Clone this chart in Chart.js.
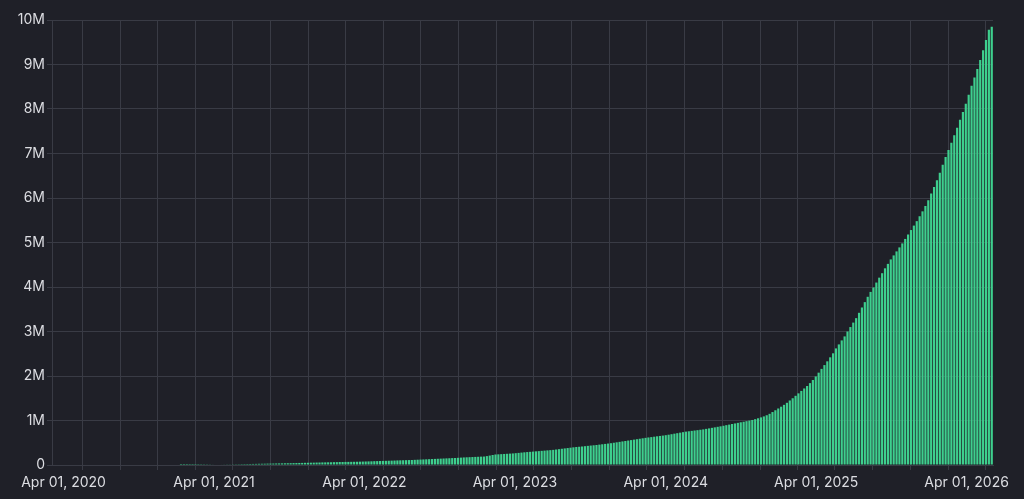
<!DOCTYPE html>
<html>
<head>
<meta charset="utf-8">
<script src="https://cdn.jsdelivr.net/npm/chart.js@4/dist/chart.umd.min.js"></script>
<style>
  html, body { margin: 0; padding: 0; background: #1f2028; }
  #wrap { width: 1024px; height: 499px; }
</style>
</head>
<body>
<div id="wrap"><canvas id="growth"></canvas></div>
<script>
// weekly totals in millions, first bar on 2021-01-04
const firstWeek = "2021-01-04";
const weeklyTotals = [
  0.000, 0.001, 0.001, 0.001, 0.002, 0.002, 0.003,
  0.004, 0.005, 0.006, 0.007, 0.008, 0.010,
  0.011, 0.011, 0.012, 0.013, 0.014, 0.014, 0.015,
  0.016, 0.017, 0.019, 0.020, 0.021, 0.023, 0.024, 0.025, 0.027, 0.028,
  0.029, 0.031, 0.032, 0.033, 0.035, 0.036, 0.037, 0.039, 0.040,
  0.041, 0.043, 0.044, 0.046, 0.047, 0.049, 0.050, 0.052, 0.053, 0.055,
  0.056, 0.058, 0.059, 0.061, 0.062, 0.064, 0.065, 0.067, 0.068, 0.069,
  0.070, 0.071, 0.072, 0.073, 0.075,
  0.077, 0.079, 0.081, 0.083, 0.086, 0.088, 0.090, 0.092, 0.094, 0.096,
  0.098, 0.100, 0.103, 0.105,
  0.107, 0.109, 0.111, 0.113, 0.116, 0.119, 0.122, 0.125, 0.128, 0.131,
  0.134, 0.137, 0.140,
  0.143, 0.146, 0.149, 0.152, 0.155, 0.158, 0.162, 0.166, 0.170, 0.173,
  0.176, 0.179, 0.182, 0.185, 0.188, 0.190,
  0.200, 0.212, 0.225, 0.236,
  0.240, 0.244, 0.248, 0.252, 0.256, 0.260,
  0.266, 0.272, 0.279, 0.285, 0.291, 0.296, 0.301,
  0.307, 0.312, 0.318, 0.323, 0.329, 0.334, 0.340,
  0.348, 0.356, 0.365, 0.373, 0.381, 0.389, 0.397, 0.404, 0.410,
  0.416, 0.423, 0.430, 0.437, 0.443, 0.450,
  0.458, 0.466, 0.474, 0.482, 0.490, 0.500,
  0.510, 0.520, 0.530, 0.540, 0.550,
  0.560, 0.570, 0.580, 0.590, 0.600, 0.610,
  0.619, 0.627, 0.636, 0.645, 0.653, 0.661, 0.670,
  0.681, 0.692, 0.704, 0.715, 0.727, 0.738, 0.750,
  0.758, 0.767, 0.775, 0.783, 0.792, 0.800,
  0.812, 0.823, 0.835, 0.846, 0.858, 0.869, 0.882,
  0.895, 0.908, 0.921, 0.934, 0.947, 0.960,
  0.972, 0.985, 0.998, 1.012,
  1.030, 1.050, 1.070, 1.092, 1.118,
  1.150, 1.190, 1.230, 1.270,
  1.310, 1.352, 1.398, 1.450,
  1.500, 1.555, 1.610, 1.665, 1.720, 1.775,
  1.840, 1.910, 1.990,
  2.075, 2.160, 2.245, 2.330,
  2.420, 2.510, 2.620,
  2.710, 2.800, 2.890,
  3.000, 3.100, 3.200, 3.300,
  3.420, 3.540, 3.660,
  3.780, 3.890, 3.990, 4.100,
  4.210, 4.310, 4.420,
  4.520, 4.620, 4.710, 4.800, 4.890, 4.980, 5.080, 5.180, 5.280, 5.380,
  5.480, 5.590, 5.700,
  5.820, 5.950,
  6.100, 6.250, 6.400, 6.570, 6.750, 6.920, 7.080, 7.240, 7.410, 7.580,
  7.760, 7.930, 8.120, 8.320, 8.520, 8.710, 8.900, 9.100, 9.320, 9.550,
  9.780, 9.850
];

const yTicks = [0, 1, 2, 3, 4, 5, 6, 7, 8, 9, 10];
const axisStart = "2020-03-04";
const axisEnd = "2026-06-04";
const tickYears = [2020, 2021, 2022, 2023, 2024, 2025, 2026];
const months = ["Jan", "Feb", "Mar", "Apr", "May", "Jun", "Jul", "Aug", "Sep", "Oct", "Nov", "Dec"];

const DAY = 86400000;
const start = Date.parse(firstWeek + "T00:00:00Z");
const points = weeklyTotals.map((v, i) => ({ x: start + i * 7 * DAY, y: v }));

// quarter starts, labelled only on Apr 01
const quarterTicks = [];
tickYears.forEach(y => {
  [0, 3, 6, 9].forEach(m => quarterTicks.push(Date.UTC(y, m, 1)));
});

const gridColor = "#393b45";
const textColor = "#dcdde2";

new Chart(document.getElementById("growth"), {
  type: "bar",
  data: {
    datasets: [{
      data: points,
      backgroundColor: "#3ecf8e",
      borderWidth: 0,
      barPercentage: 0.75,
      categoryPercentage: 1
    }]
  },
  options: {
    responsive: true,
    maintainAspectRatio: false,
    animation: false,
    layout: { padding: { top: 20, right: 31, left: 0, bottom: 0 } },
    plugins: { legend: { display: false }, tooltip: { enabled: false } },
    scales: {
      x: {
        type: "linear",
        offset: false,
        min: Date.parse(axisStart + "T00:00:00Z"),
        max: Date.parse(axisEnd + "T00:00:00Z"),
        afterBuildTicks: s => {
          s.ticks = quarterTicks.filter(t => t >= s.min && t <= s.max).map(t => ({ value: t }));
        },
        afterFit: s => { s.height = 34; },
        grid: { color: gridColor, tickLength: 5, drawTicks: true },
        border: { color: gridColor },
        ticks: {
          autoSkip: false,
          maxRotation: 0,
          padding: 4,
          color: textColor,
          font: { family: "Inter", size: 14 },
          callback: v => {
            const d = new Date(v);
            if (d.getUTCMonth() !== 3) return "";
            return months[d.getUTCMonth()] + " 01, " + d.getUTCFullYear();
          }
        }
      },
      y: {
        min: 0,
        max: 10,
        afterBuildTicks: s => { s.ticks = yTicks.map(v => ({ value: v })); },
        afterFit: s => { s.width = 52; },
        grid: { color: gridColor, tickLength: 5 },
        border: { color: gridColor },
        ticks: {
          padding: 2,
          color: textColor,
          font: { family: "Inter", size: 14 },
          callback: v => v === 0 ? "0" : v + "M"
        }
      }
    }
  }
});
</script>
</body>
</html>
